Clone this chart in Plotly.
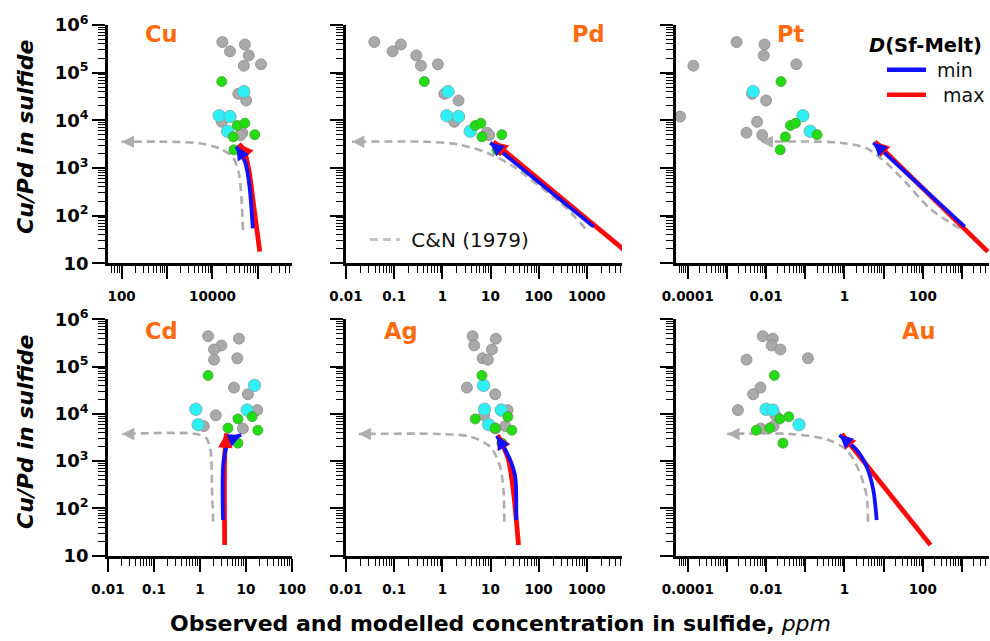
import math
import plotly.graph_objects as go

# ---------------- observed samples: Cu/Pd in sulfide (same samples in every panel) ----------------
gray_cupd = [4.4e5, 3.9e5, 2.8e5, 2.3e5, 1.5e5, 1.4e5, 3.6e4, 2.6e4, 1.2e4, 9.3e3, 5.5e3, 4.9e3]
cyan_cupd = [4.0e4, 1.25e4, 1.2e4, 5.9e3]
green_cupd = [6.5e4, 7.8e3, 8.7e3, 5.0e3, 4.5e3, 2.4e3]

# observed concentrations in sulfide (ppm)
gray_cu = [16500, 51600, 24300, 63000, 117000, 49000, 36900, 55200, 24300, 16000, 45200, 41700]
gray_pd = [0.0387, 0.138, 0.0929, 0.288, 0.811, 0.360, 1.10, 2.17, 2.2, 1.77, 8.41, 9.33]
gray_pt = [0.00176, 0.00912, None, 0.00871, 0.0589, 0.000139, 0.00437, 0.0100, 0.0000638, 0.00589, 0.00316, 0.00794]
gray_cd = [1.50, 7.03, 2.92, 2.02, 6.46, 2.02, 5.48, 11.0, 17.5, 2.20, 1.21, 8.57]
gray_ag = [4.25, 12.9, 4.60, 10.7, 6.84, 8.83, 3.24, 12.5, 22.6, 7.41, 20.2, 12.6]
gray_au = [0.00822, 0.0148, 0.0138, 0.0231, 0.117, 0.00316, 0.00718, 0.00468, 0.00191, 0.0174, 0.0155, 0.00724]

cyan_cu = [49000, 14000, 24300, 21400]
cyan_pd = [1.31, 1.24, 2.17, 3.80]
cyan_pt = [0.00468, 0.0871, None, 0.134]
cyan_cd = [15.3, 0.813, 10.6, 0.912]
cyan_ag = [7.18, 7.53, 16.7, 9.12]
cyan_au = [None, 0.0100, 0.0148, 0.0692]

green_cu = [16000, 35100, 51600, 85100, 28700, 29500]
green_pd = [0.422, 4.82, 6.31, 17.2, 6.64, 13.6]
green_pt = [0.024, 0.0417, 0.0562, 0.200, 0.0309, 0.0229]
green_cd = [1.50, 6.68, 13.6, 4.06, 18.1, 6.68]
green_ag = [6.64, 4.82, 22.9, 12.5, 27.8, 17.2]
green_au = [0.0162, 0.0224, 0.038, 0.0123, 0.00562, 0.0269]

# ---------------- model curves: C&N (1979) ----------------
cn_cu_x = [46800, 43600, 38000, 27300, 14000, 5130, 955, 100]
cn_cu_y = [50, 214, 776, 1740, 2570, 3310, 3550, 3550]
cn_pd_x = [923, 385, 107, 30.2, 8.41, 2.01, 0.479, 0.0133]
cn_pd_y = [53.7, 141, 407, 1070, 2090, 3160, 3550, 3550]
cn_pt_x = [871, 151, 38.5, 11.9, 3.70, 0.776, 0.00718]
cn_pt_y = [53.7, 141, 479, 1260, 2570, 3390, 3550]
cn_cd_x = [1.93, 1.83, 1.69, 1.38, 0.84, 0.02]
cn_cd_y = [52.5, 245, 1720, 3020, 3750, 3750]
cn_ag_x = [19.3, 18.6, 15.8, 9.86, 3.80, 0.906, 0.0183]
cn_ag_y = [52.5, 245, 769, 2020, 3310, 3750, 3750]
cn_au_x = [3.98, 3.70, 2.50, 1.15, 0.356, 0.0417, 0.00102]
cn_au_y = [52.5, 178, 556, 1720, 2880, 3750, 3750]

# ---------------- model curves: D(Sf-Melt) min ----------------
min_cu_x = [77100, 65300, 53300, 41500, 33400]
min_cu_y = [54, 406, 1250, 2030, 2810]
min_pd_x = [1374, 9.89]
min_pd_y = [58.9, 3390]
min_pt_x = [1170, 5.46]
min_pt_y = [58.9, 3390]
min_cd_x = [3.16, 3.27, 4.42, 7.89]
min_cd_y = [56.9, 1057, 2800, 3570]
min_ag_x = [34.2, 32.6, 25.7, 18.6, 13.6]
min_ag_y = [56.9, 468, 1057, 2020, 3400]
min_au_x = [6.64, 5.46, 3.70, 2.06, 0.746]
min_au_y = [56.9, 245, 759, 1720, 3570]

# ---------------- model curves: D(Sf-Melt) max ----------------
max_cu_x = [110000, 81100, 63100, 49000, 38200]
max_cu_y = [17.6, 155, 908, 2390, 3180]
max_pd_x = [6546, 11.5]
max_pd_y = [17.6, 3550]
max_pt_x = [4570, 6.03]
max_pt_y = [17.6, 3550]
max_cd_x = [3.44, 3.44, 3.74]
max_cd_y = [16.8, 1240, 3870]
max_ag_x = [38.2, 30.2, 23.7, 18.6, 14.0]
max_ag_y = [16.8, 209, 1057, 2020, 3570]
max_au_x = [157, 0.855]
max_au_y = [16.8, 3750]

# ---------------- tick labels ----------------
y_tickvals = [10, 100, 1000, 1e4, 1e5, 1e6]
y_ticktext = ["10", "10<sup>2</sup>", "10<sup>3</sup>", "10<sup>4</sup>", "10<sup>5</sup>", "10<sup>6</sup>"]
x_tickvals_cu = [100, 1000, 1e4, 1e5]
x_ticktext_cu = ["100", "", "10000", ""]
x_tickvals_pd = [0.01, 0.1, 1, 10, 100, 1000]
x_ticktext_pd = ["0.01", "0.1", "1", "10", "100", "1000"]
x_tickvals_pt = [1e-4, 1e-3, 0.01, 0.1, 1, 10, 100, 1000]
x_ticktext_pt = ["0.0001", "", "0.01", "", "1", "", "100", ""]
x_tickvals_cd = [0.01, 0.1, 1, 10, 100]
x_ticktext_cd = ["0.01", "0.1", "1", "10", "100"]

elements = ["Cu", "Pd", "Pt", "Cd", "Ag", "Au"]

# ---------------- assemble ----------------
FONT = "DejaVu Sans, Verdana, sans-serif"
ORANGE = "#FF6A0D"
GRAYLINE = "#ADADAD"
BLUE = "#1010FF"
RED = "#FF0A0A"

obs = {
    "Cu": (gray_cu, cyan_cu, green_cu), "Pd": (gray_pd, cyan_pd, green_pd),
    "Pt": (gray_pt, cyan_pt, green_pt), "Cd": (gray_cd, cyan_cd, green_cd),
    "Ag": (gray_ag, cyan_ag, green_ag), "Au": (gray_au, cyan_au, green_au),
}
cn = {"Cu": (cn_cu_x, cn_cu_y), "Pd": (cn_pd_x, cn_pd_y), "Pt": (cn_pt_x, cn_pt_y),
      "Cd": (cn_cd_x, cn_cd_y), "Ag": (cn_ag_x, cn_ag_y), "Au": (cn_au_x, cn_au_y)}
mins = {"Cu": (min_cu_x, min_cu_y), "Pd": (min_pd_x, min_pd_y), "Pt": (min_pt_x, min_pt_y),
        "Cd": (min_cd_x, min_cd_y), "Ag": (min_ag_x, min_ag_y), "Au": (min_au_x, min_au_y)}
maxs = {"Cu": (max_cu_x, max_cu_y), "Pd": (max_pd_x, max_pd_y), "Pt": (max_pt_x, max_pt_y),
        "Cd": (max_cd_x, max_cd_y), "Ag": (max_ag_x, max_ag_y), "Au": (max_au_x, max_au_y)}
xticks = {"Cu": (x_tickvals_cu, x_ticktext_cu), "Pd": (x_tickvals_pd, x_ticktext_pd),
          "Pt": (x_tickvals_pt, x_ticktext_pt), "Cd": (x_tickvals_cd, x_ticktext_cd),
          "Ag": (x_tickvals_pd, x_ticktext_pd), "Au": (x_tickvals_pt, x_ticktext_pt)}
# log10 x ranges of the panels
xranges = {"Cu": [1.70, 5.75], "Pd": [-2, 3.73], "Pt": [-4.3, 3.69],
           "Cd": [-2, 2], "Ag": [-2, 3.73], "Au": [-4.3, 3.69]}

W, H = 990, 641
col_dom = [(108 / W, 292 / W), (346 / W, 622 / W), (676 / W, 989 / W)]
row_dom = [((H - 263.3) / H, (H - 25) / H), ((H - 555.7) / H, (H - 319.3) / H)]

fig = go.Figure()
annotations = []


def curve(x, y, color, width, dash, xa, ya):
    return go.Scatter(x=x, y=y, xaxis=xa, yaxis=ya, mode="lines",
                      line=dict(color=color, width=width, dash=dash, shape="spline", smoothing=0.8),
                      showlegend=False, hoverinfo="skip")


def head(x, y, color, width, size, xa, ya):
    """arrow head at the last point of a curve, along its last segment (log axes)"""
    tx, ty = math.log10(x[-1]), math.log10(y[-1])
    px, py = math.log10(x[-2]), math.log10(y[-2])
    d = math.hypot(px - tx, py - ty)
    f = 0.28 / d
    return dict(x=tx, y=ty, ax=tx + f * (px - tx), ay=ty + f * (py - ty), xref=xa, yref=ya,
                axref=xa, ayref=ya, text="", showarrow=True, arrowhead=2, arrowsize=size,
                arrowwidth=width, arrowcolor=color, standoff=0, startstandoff=0)


layout_axes = {}
for i, el in enumerate(elements):
    r, c = divmod(i, 3)
    k = "" if i == 0 else str(i + 1)
    xa, ya = "x" + k, "y" + k
    g, cy, gr = obs[el]

    fig.add_trace(curve(cn[el][0], cn[el][1], GRAYLINE, 2.6, "8px,5px", xa, ya))
    fig.add_trace(go.Scatter(x=g, y=gray_cupd, xaxis=xa, yaxis=ya, mode="markers", cliponaxis=False,
                             marker=dict(size=11, color="#A9A9A9", line=dict(color="#8A8A8A", width=0.8)),
                             showlegend=False))
    fig.add_trace(go.Scatter(x=cy, y=cyan_cupd, xaxis=xa, yaxis=ya, mode="markers", cliponaxis=False,
                             marker=dict(size=12.5, color="#2EF0F4", line=dict(color="#7FA8AA", width=0.8)),
                             showlegend=False))
    fig.add_trace(go.Scatter(x=gr, y=green_cupd, xaxis=xa, yaxis=ya, mode="markers", cliponaxis=False,
                             marker=dict(size=10, color="#22DD11", line=dict(color="#4A9A3A", width=0.8)),
                             showlegend=False))
    fig.add_trace(curve(maxs[el][0], maxs[el][1], RED, 4.8, "solid", xa, ya))
    fig.add_trace(curve(mins[el][0], mins[el][1], BLUE, 3.8, "solid", xa, ya))

    annotations.append(head(cn[el][0], cn[el][1], GRAYLINE, 2.6, 0.95, xa, ya))
    annotations.append(head(maxs[el][0], maxs[el][1], RED, 4.8, 0.6, xa, ya))
    annotations.append(head(mins[el][0], mins[el][1], BLUE, 3.8, 0.7, xa, ya))

    common = dict(type="log", showline=True, linecolor="black", linewidth=2.6, mirror=False,
                  showgrid=False, zeroline=False, automargin=False,
                  ticks="outside", ticklen=13, tickwidth=2.2, tickcolor="black",
                  minor=dict(ticks="outside", ticklen=7, tickwidth=1.4, tickcolor="black",
                             dtick="D1", showgrid=False))
    tv, tt = xticks[el]
    layout_axes["xaxis" + k] = dict(common, domain=list(col_dom[c]), anchor=ya, range=xranges[el],
                                    tickmode="array", tickvals=tv, ticktext=tt, ticklabelstandoff=6,
                                    tickangle=0,
                                    tickfont=dict(family=FONT, size=13.5, color="black", weight="bold"))
    layout_axes["yaxis" + k] = dict(common, domain=list(row_dom[r]), anchor=xa, range=[1, 6],
                                    tickmode="array", tickvals=y_tickvals, ticktext=y_ticktext,
                                    showticklabels=(c == 0),
                                    tickfont=dict(family=FONT, size=18, color="black", weight="bold"))

# legend entries (empty traces, only shown in legends)
fig.add_trace(go.Scatter(x=[None], y=[None], mode="lines", name="\u00a0min",
                         line=dict(color=BLUE, width=4.5), legend="legend"))
fig.add_trace(go.Scatter(x=[None], y=[None], mode="lines", name="\u00a0\u00a0max",
                         line=dict(color=RED, width=4.5), legend="legend3"))
fig.add_trace(go.Scatter(x=[None], y=[None], mode="lines", name="\u00a0C&N (1979)",
                         line=dict(color="#C4C4C4", width=3, dash="8px,5px"), legend="legend2",
                         xaxis="x2", yaxis="y2"))

title_pos = {"Cu": (161, 34), "Pd": (588, 34), "Pt": (790, 34),
             "Cd": (161, 331), "Ag": (401, 331), "Au": (918, 331)}
for el in elements:
    px, py = title_pos[el]
    annotations.append(dict(x=px / W, y=1 - py / H, xref="paper", yref="paper", text="<b>" + el + "</b>",
                            showarrow=False, xanchor="center", yanchor="middle",
                            font=dict(family=FONT, size=22.5, color=ORANGE)))
for py in (137, 432):
    annotations.append(dict(x=25 / W, y=1 - py / H, xref="paper", yref="paper",
                            text="<b><i>Cu/Pd in sulfide</i></b>", textangle=-90, showarrow=False,
                            xanchor="center", yanchor="middle",
                            font=dict(family=FONT, size=22, color="black")))
annotations.append(dict(x=500 / W, y=1 - 623 / H, xref="paper", yref="paper",
                        text="<b>Observed and modelled concentration in sulfide,</b> <i>ppm</i>",
                        showarrow=False, xanchor="center", yanchor="middle",
                        font=dict(family=FONT, size=22, color="black")))
annotations.append(dict(x=925 / W, y=1 - 45 / H, xref="paper", yref="paper",
                        text="<b><i>D</i>(Sf-Melt)</b>", showarrow=False, xanchor="center",
                        yanchor="middle", font=dict(family=FONT, size=19.5, color="black")))

leg_common = dict(xanchor="left", yanchor="top", bgcolor="rgba(0,0,0,0)", borderwidth=0)
fig.update_layout(
    width=W, height=H, margin=dict(l=0, r=0, t=0, b=0, autoexpand=False),
    paper_bgcolor="white", plot_bgcolor="rgba(0,0,0,0)",
    font=dict(family=FONT, color="black"),
    annotations=annotations,
    legend=dict(leg_common, x=882 / W, y=1 - 51 / H, itemwidth=39,
                font=dict(family=FONT, size=19, color="#111111")),
    legend3=dict(leg_common, x=882 / W, y=1 - 76 / H, itemwidth=39,
                 font=dict(family=FONT, size=19, color="#111111")),
    legend2=dict(leg_common, x=365 / W, y=1 - 220 / H, itemwidth=30,
                 font=dict(family=FONT, size=20, color="#111111")),
    **layout_axes,
)

fig.write_html("out.html")
